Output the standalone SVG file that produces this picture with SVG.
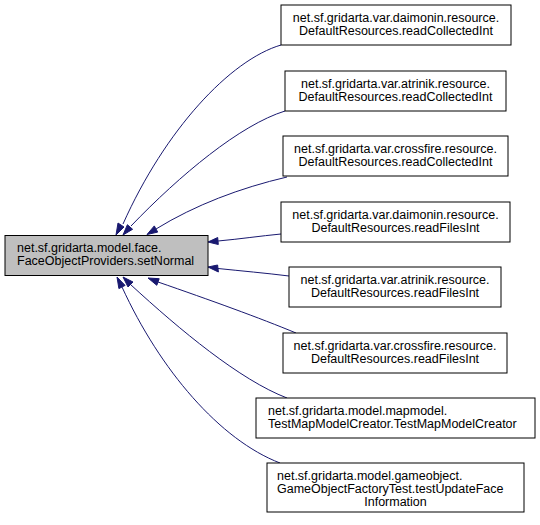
<svg xmlns="http://www.w3.org/2000/svg" width="540" height="525" viewBox="0 0 540 525">
<style>
  .box { fill: #ffffff; stroke: #000000; stroke-width: 1; }
  .main { fill: #bfbfbf; stroke: #000000; stroke-width: 1; }
  text { font-family: "Liberation Sans", Arial, sans-serif; font-size: 12.5px; fill: #000000; }
  .c { text-anchor: middle; }
  .edge { fill: none; stroke: #191970; stroke-width: 1; }
  .head { fill: #191970; stroke: #191970; stroke-width: 1; }
</style>
<rect x="0" y="0" width="540" height="525" fill="#ffffff"/>

<g id="connectors">
  <path class="edge" d="M281,45 C230,60 165,130 123,224"/>
  <polygon class="head" points="124,227 118,223 116,235"/>
  <path class="edge" d="M285,111 C240,125 180,175 131,226"/>
  <polygon class="head" points="132.6,229.3 127.4,224.7 123,235"/>
  <path class="edge" d="M287,177 C240,188 195,205 156,229"/>
  <polygon class="head" points="157.7,232.1 154.3,225.9 147,234.5"/>
  <path class="edge" d="M281,234 C260,236 240,239 218,241"/>
  <polygon class="head" points="218.3,244.5 217.7,237.5 208,242"/>
  <path class="edge" d="M289,276 C265,273 242,271 218,268.5"/>
  <polygon class="head" points="218.4,272 217.6,265 208,267"/>
  <path class="edge" d="M296,333 C260,318 210,300 158,282"/>
  <polygon class="head" points="156.8,285.3 159.2,278.7 148,278"/>
  <path class="edge" d="M287,398 C240,380 180,330 130.5,284.5"/>
  <polygon class="head" points="133,282 128,287 123,277"/>
  <path class="edge" d="M280,463 C220,440 160,370 122,287"/>
  <polygon class="head" points="125.1,285.4 118.9,288.6 117,277"/>
</g>

<g id="main">
  <rect class="main" x="5" y="235.5" width="203" height="40"/>
  <text x="17" y="252">net.sf.gridarta.model.face.</text>
  <text x="17" y="265">FaceObjectProviders.setNormal</text>
</g>

<g id="n1">
  <rect class="box" x="281" y="5" width="230" height="40"/>
  <text class="c" x="396" y="22">net.sf.gridarta.var.daimonin.resource.</text>
  <text class="c" x="396" y="35">DefaultResources.readCollectedInt</text>
</g>

<g id="n2">
  <rect class="box" x="285" y="71" width="221" height="40"/>
  <text class="c" x="395.5" y="88">net.sf.gridarta.var.atrinik.resource.</text>
  <text class="c" x="395.5" y="101">DefaultResources.readCollectedInt</text>
</g>

<g id="n3">
  <rect class="box" x="283" y="136" width="225" height="40"/>
  <text class="c" x="395.5" y="153">net.sf.gridarta.var.crossfire.resource.</text>
  <text class="c" x="395.5" y="166">DefaultResources.readCollectedInt</text>
</g>

<g id="n4">
  <rect class="box" x="281" y="202" width="229" height="40"/>
  <text class="c" x="395.5" y="219">net.sf.gridarta.var.daimonin.resource.</text>
  <text class="c" x="395.5" y="232">DefaultResources.readFilesInt</text>
</g>

<g id="n5">
  <rect class="box" x="289" y="267" width="212" height="40"/>
  <text class="c" x="395" y="284">net.sf.gridarta.var.atrinik.resource.</text>
  <text class="c" x="395" y="297">DefaultResources.readFilesInt</text>
</g>

<g id="n6">
  <rect class="box" x="283" y="333" width="224" height="40"/>
  <text class="c" x="395" y="350">net.sf.gridarta.var.crossfire.resource.</text>
  <text class="c" x="395" y="363">DefaultResources.readFilesInt</text>
</g>

<g id="n7">
  <rect class="box" x="256" y="398" width="279" height="40"/>
  <text x="268" y="415">net.sf.gridarta.model.mapmodel.</text>
  <text x="268" y="428">TestMapModelCreator.TestMapModelCreator</text>
</g>

<g id="n8">
  <rect class="box" x="267" y="463" width="257" height="49"/>
  <text x="277" y="480">net.sf.gridarta.model.gameobject.</text>
  <text x="277" y="493">GameObjectFactoryTest.testUpdateFace</text>
  <text class="c" x="395.5" y="506">Information</text>
</g>
</svg>
